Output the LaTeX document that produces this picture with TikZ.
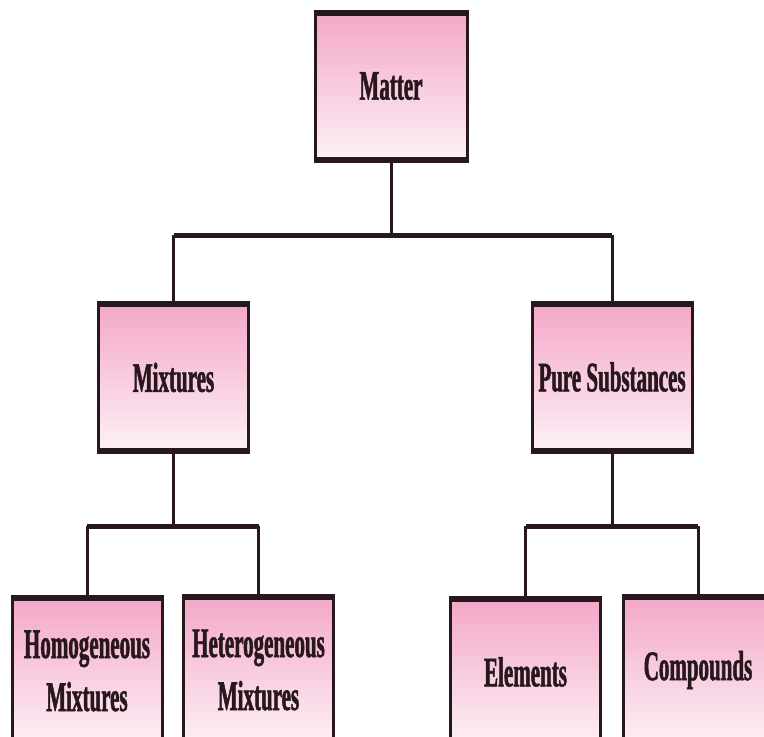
\documentclass[tikz,border=0pt]{standalone}
\usepackage{fontspec}
\setmainfont{Liberation Serif}[FakeStretch=0.5, BoldFeatures={FakeBold=1.2}]
\usetikzlibrary{positioning, calc}
\definecolor{cPink}{RGB}{243,168,200}
\definecolor{cPale}{RGB}{253,240,246}
\definecolor{cEdge}{RGB}{40,24,30}

\begin{document}
\begin{tikzpicture}[x=1pt, y=-1pt, thick,
                    bx/.style={rectangle, draw=cEdge, line width=3pt, top color=cPink, bottom color=cPale,
                               minimum width=150pt, minimum height=144pt, inner sep=2pt, align=center,
                               text=cEdge, font=\fontsize{42}{53}\selectfont\bfseries},
                    bar/.style={draw=cEdge, line width=3pt},
                    rail/.style={draw=cEdge, line width=5pt}]
    \path[use as bounding box, clip] (0,0) rectangle (764,737);

    % Node Placements
    \node[bx, minimum width=152pt] (mat) at (391,86)    {Matter};
    \node[bx] (mix) at (173.5,377.5) {Mixtures};
    \node[bx, minimum width=160pt] (pur) at (612,377)   {Pure Substances};
    \node[bx] (hom) at (87,671)    {Homogeneous\\Mixtures};
    \node[bx] (het) at (258.5,670) {Heterogeneous\\Mixtures};
    \node[bx] (ele) at (525.5,672) {Elements};
    \node[bx] (com) at (698,670)   {Compounds};

    % thick top and bottom edges
    \foreach \n in {mat,mix,pur,hom,het,ele,com}
        \draw[line width=6pt, cEdge] (\n.north west) -- (\n.north east)
                                      (\n.south west) -- (\n.south east);

    % Junctions
    \coordinate (jm) at (391,235);
    \coordinate (jx) at (173.5,526);
    \coordinate (jp) at (612,526);

    % Connectors
    \path[bar] (mat.south) -- (jm);
    \path[bar] (mix.north) -- (mix.north |- jm);
    \path[bar] (pur.north) -- (pur.north |- jm);
    \path[rail] (mix.north |- jm) -- (pur.north |- jm);

    \path[bar] (mix.south) -- (jx);
    \path[bar] (hom.north) -- (hom.north |- jx);
    \path[bar] (het.north) -- (het.north |- jx);
    \path[rail] (hom.north |- jx) -- (het.north |- jx);

    \path[bar] (pur.south) -- (jp);
    \path[bar] (ele.north) -- (ele.north |- jp);
    \path[bar] (com.north) -- (com.north |- jp);
    \path[rail] (ele.north |- jp) -- (com.north |- jp);
\end{tikzpicture}
\end{document}
